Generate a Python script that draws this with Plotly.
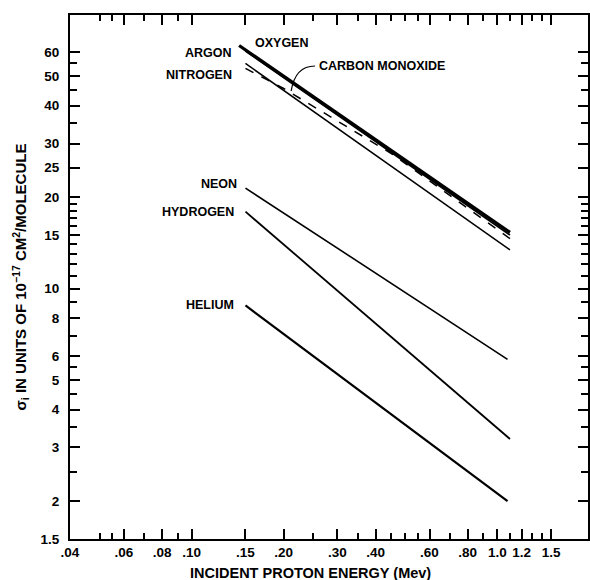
import numpy as np
import plotly.graph_objects as go

# ---- data (energy in MeV, cross section in 1e-17 cm^2) ----
argon_E = [0.143, 1.1]
argon_s = [63.0, 15.3]
oxygen_E = [0.15, 1.1]
oxygen_s = [60.5, 15.0]
co_E = [0.15, 0.20, 0.45, 1.1]
co_s = [53.0, 45.5, 27.8, 14.6]
nitrogen_E = [0.15, 1.1]
nitrogen_s = [55.0, 13.4]
neon_E = [0.15, 1.08]
neon_s = [21.4, 5.85]
hydrogen_E = [0.15, 1.1]
hydrogen_s = [17.9, 3.2]
helium_E = [0.15, 1.08]
helium_s = [8.8, 2.0]

x_tickvals = [0.04, 0.06, 0.08, 0.10, 0.15, 0.20, 0.30, 0.40, 0.60, 0.80, 1.0, 1.2, 1.5]
x_ticktext = [".04", ".06", ".08", ".10", ".15", ".20", ".30", ".40", ".60", ".80", "1.0", "1.2", "1.5"]
x_minor = [0.05, 0.055, 0.07, 0.09, 0.25, 0.35, 0.45, 0.5, 0.55, 0.7, 0.9, 1.1, 1.3, 1.4]
y_tickvals = [1.5, 2, 3, 4, 5, 6, 8, 10, 15, 20, 25, 30, 40, 50, 60]
y_ticktext = ["1.5", "2", "3", "4", "5", "6", "8", "10", "15", "20", "25", "30", "40", "50", "60"]
y_minor = [2.5, 3.5, 4.5, 5.5, 7, 9, 11, 12, 13, 14, 16, 17, 18, 19, 35, 45, 55]

FONT = "Liberation Sans"
fig = go.Figure()

def add(E, s, width, dash="solid"):
    fig.add_trace(go.Scatter(x=E, y=s, mode="lines",
                             line=dict(color="black", width=width, dash=dash),
                             showlegend=False, hoverinfo="skip"))

add(argon_E, argon_s, 3.2)
add(oxygen_E, oxygen_s, 1.8)
add(nitrogen_E, nitrogen_s, 1.5)
add(co_E, co_s, 1.5, "dash")
add(neon_E, neon_s, 1.6)
add(hydrogen_E, hydrogen_s, 1.8)
add(helium_E, helium_s, 2.2)

L, R, T, B = 70, 590, 15, 539
def px(x): return (x - L) / (R - L)
def py(y): return (B - y) / (B - T)

labels = [
    ("ARGON", 235, 53, "right"),
    ("NITROGEN", 235, 75, "right"),
    ("OXYGEN", 254, 43, "left"),
    ("CARBON MONOXIDE", 318, 66, "left"),
    ("NEON", 240, 184, "right"),
    ("HYDROGEN", 237, 212, "right"),
    ("HELIUM", 237, 305, "right"),
]
for txt, x, y, anc in labels:
    fig.add_annotation(x=px(x), y=py(y), xref="paper", yref="paper", text=txt,
                       showarrow=False, xanchor=anc, yanchor="middle",
                       font=dict(family=FONT, size=12.5, color="black", weight="bold"))

# x-axis title (slightly left of centre, as in the reference)
fig.add_annotation(x=px(311), y=py(573), xref="paper", yref="paper",
                   text="INCIDENT PROTON ENERGY (Mev)", showarrow=False,
                   xanchor="center", yanchor="middle",
                   font=dict(family=FONT, size=14.5, color="black", weight="bold"))

# curved leader for carbon monoxide
fig.add_shape(type="path", xref="paper", yref="paper",
              path=f"M {px(316)},{py(66)} Q {px(296)},{py(66)} {px(292)},{py(91)}",
              line=dict(color="black", width=1.2))

axis_common = dict(showline=True, linecolor="black", linewidth=2, mirror="allticks",
                   ticks="inside", ticklen=10, tickwidth=1.5, tickcolor="black",
                   showgrid=False, zeroline=False,
                   tickfont=dict(family=FONT, size=13.5, color="black", weight="bold"))

fig.update_xaxes(type="log", range=[np.log10(0.04), np.log10(1.98)],
                 tickmode="array", tickvals=x_tickvals, ticktext=x_ticktext,
                 minor=dict(tickmode="array", tickvals=x_minor, ticks="inside",
                            ticklen=6, tickwidth=1.5, tickcolor="black", showgrid=False),
                 **axis_common)
fig.update_yaxes(type="log", range=[np.log10(1.5), np.log10(79.4)],
                 tickmode="array", tickvals=y_tickvals, ticktext=y_ticktext,
                 ticklabelstandoff=6,
                 minor=dict(tickmode="array", tickvals=y_minor, ticks="inside",
                            ticklen=7, tickwidth=1.5, tickcolor="black", showgrid=False),
                 title=dict(text="σ<sub>i</sub> IN UNITS OF 10<sup>−17</sup> CM<sup>2</sup>/MOLECULE",
                            standoff=10,
                            font=dict(family=FONT, size=15, color="black", weight="bold")),
                 **axis_common)

fig.update_layout(width=590, height=580, margin=dict(l=L, r=590 - R, t=T, b=580 - B),
                  plot_bgcolor="white", paper_bgcolor="white", showlegend=False)

fig.write_html("out.html")
